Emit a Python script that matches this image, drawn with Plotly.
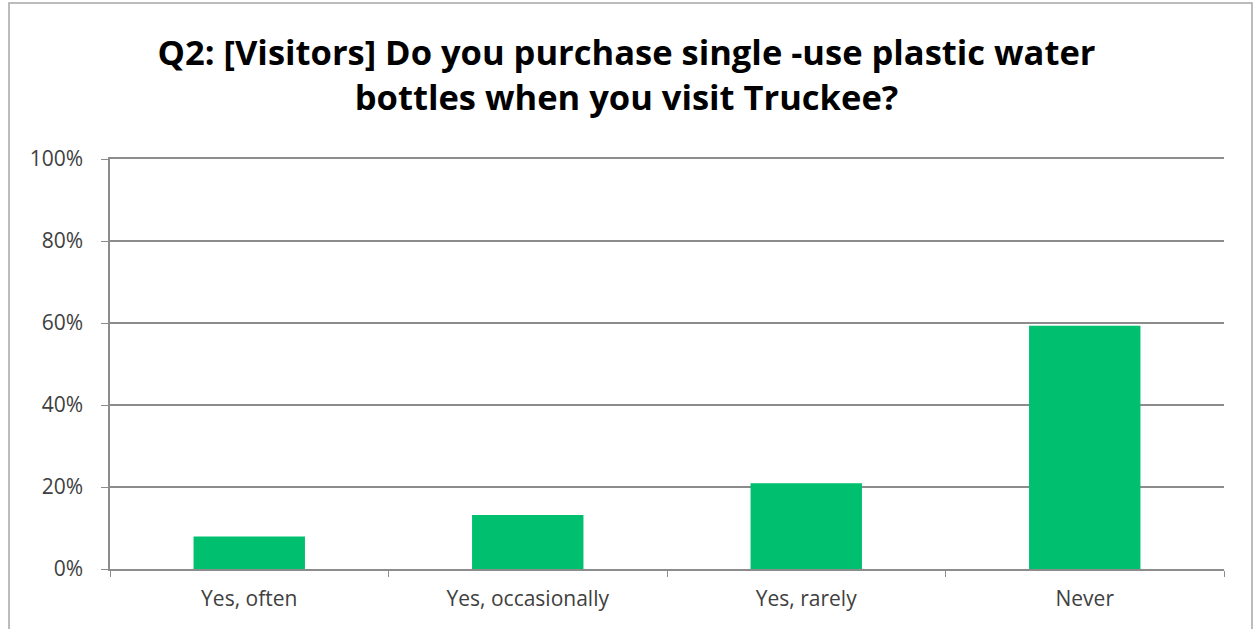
import plotly.graph_objects as go

categories = ["Yes, often", "Yes, occasionally", "Yes, rarely", "Never"]
values = [0.079, 0.132, 0.209, 0.593]
y_ticks = [0, 0.2, 0.4, 0.6, 0.8, 1.0]
title_text = "Q2: [Visitors] Do you purchase single -use plastic water<br>bottles when you visit Truckee?"

W, H = 1253, 629
ml, mr, mt, mb = 110, 29, 159, 60
pw, ph = W - ml - mr, H - mt - mb

fig = go.Figure(go.Bar(
    x=categories, y=values,
    marker=dict(color="#00BF6F", line=dict(width=0)),
    width=0.4,
))

def px_to_paper_x(px):
    return (px - ml) / pw

def px_to_paper_y(py):
    return (H - mb - py) / ph

tick_font = dict(family="Open Sans", size=21, color="#404040")

fig.update_layout(
    width=W, height=H,
    margin=dict(l=ml, r=mr, t=mt, b=mb),
    paper_bgcolor="white", plot_bgcolor="white",
    showlegend=False,
    title=dict(text=title_text, x=0.5, xanchor="center", y=1 - 65 / H, yanchor="middle",
               font=dict(family="Open Sans", size=34.5, color="#000000", weight="bold")),
    font=dict(family="Open Sans", color="#404040"),
    xaxis=dict(type="category", showgrid=False, showline=True, linecolor="#8c8c8c", linewidth=1.5,
               mirror=True,
               ticks="outside", tickson="boundaries", ticklen=6, tickcolor="#8c8c8c",
               tickfont=tick_font, zeroline=False, ticklabelstandoff=10),
    yaxis=dict(range=[0, 1], tickvals=y_ticks, tickformat=".0%", showgrid=True,
               gridcolor="#8c8c8c", gridwidth=1.5, showline=True, linecolor="#8c8c8c", linewidth=1.5,
               ticks="outside", ticklen=7, tickcolor="#8c8c8c", zeroline=False,
               tickfont=tick_font, ticklabelstandoff=14),
    shapes=[dict(type="rect", xref="paper", yref="paper",
                 x0=px_to_paper_x(9), x1=px_to_paper_x(1252),
                 y0=px_to_paper_y(640), y1=px_to_paper_y(3),
                 line=dict(color="#a6a6a6", width=1.5), fillcolor="rgba(0,0,0,0)", layer="below")],
)

fig.write_html("out.html", config={"displayModeBar": False},
               post_script="document.body.style.margin='0';document.body.style.overflow='hidden';")
